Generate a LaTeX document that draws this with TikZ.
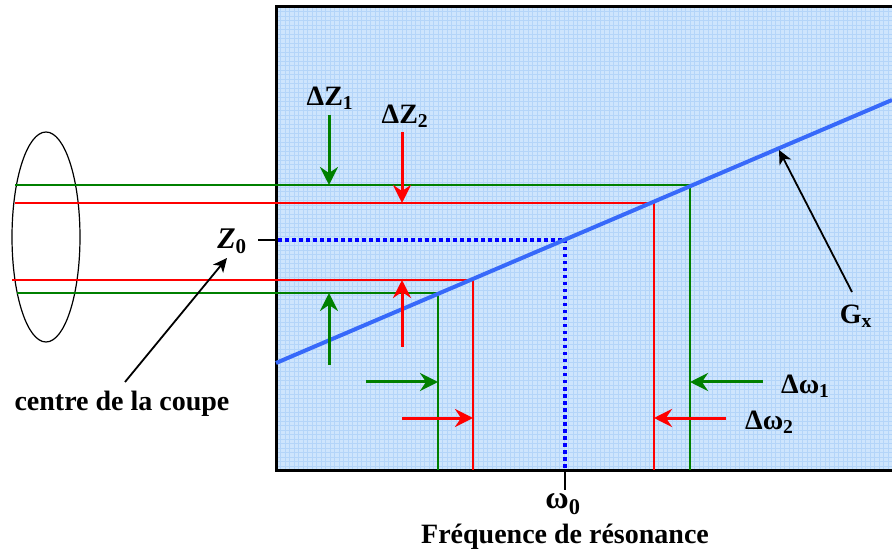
\documentclass[tikz,border=0pt]{standalone}
\usepackage{fontspec}
\setmainfont{Liberation Serif}
\usetikzlibrary{arrows.meta}
\definecolor{bgblue}{RGB}{206,229,253}
\definecolor{gridblue}{RGB}{180,213,249}
\definecolor{dgreen}{RGB}{0,128,0}
\definecolor{gxblue}{RGB}{55,105,250}
\definecolor{dotblue}{RGB}{0,0,255}
\tikzset{
  lbl/.style={font=\fontsize{28}{30}\selectfont\bfseries, inner sep=0pt},
  gline/.style={dgreen, line width=1.6pt},
  rline/.style={red, line width=1.6pt},
  garrow/.style={dgreen, line width=3pt, -{Stealth[length=18pt,width=18pt,inset=6pt]}},
  rarrow/.style={red, line width=3pt, -{Stealth[length=18pt,width=18pt,inset=6pt]}},
  karrow/.style={black, line width=1.8pt, -{Stealth[length=14pt,width=13pt,inset=4pt]}},
}
\begin{document}
\begin{tikzpicture}[x=1pt,y=-1pt]
\useasboundingbox (0,0) rectangle (892,553);
% box
\fill[bgblue] (276,7) rectangle (892,470);
\begin{scope}
\clip (276,7) rectangle (892,470);
\foreach \i in {0,...,137} {\draw[gridblue, line width=0.8pt] (276+\i*4.5,7) -- (276+\i*4.5,470);}
\foreach \j in {0,...,103} {\draw[gridblue, line width=0.8pt] (276,7+\j*4.5) -- (892,7+\j*4.5);}
\end{scope}
\draw[black, line width=3pt] (892,7) -- (276,7) -- (276,470) -- (892,470);
% coordinates
\coordinate (gA) at (690,185);
\coordinate (rA) at (654,203);
\coordinate (rB) at (473,280);
\coordinate (gB) at (438,293);
\coordinate (z0) at (565,240);
\coordinate (gAb) at (690,470);
\coordinate (rAb) at (654,470);
\coordinate (rBb) at (473,470);
\coordinate (gBb) at (438,470);
\coordinate (w0b) at (565,470);
\coordinate (gAl) at (15,185);
\coordinate (rAl) at (15,203);
\coordinate (rBl) at (12,280);
\coordinate (gBl) at (17,293);
% ellipse
\draw[black, line width=1.2pt] (46,237) ellipse [x radius=34, y radius=105];
% horizontal/vertical lines
\draw[gline] (gAl) -- (gA) -- (gAb);
\draw[rline] (rAl) -- (rA) -- (rAb);
\draw[rline] (rBl) -- (rB) -- (rBb);
\draw[gline] (gBl) -- (gB) -- (gBb);
% dotted
\draw[dotblue, line width=3.5pt, dash pattern=on 3.5pt off 3.5pt] (278,240) -- (z0) -- (w0b);
\draw[black, line width=2.5pt] (258,240) -- (276,240);
\draw[black, line width=2.5pt] (w0b) -- (565,490);
% Gx line
\coordinate (gx0) at (276,363);
\coordinate (gx1) at (892,100);
\draw[gxblue, line width=4pt] (gx0) -- (gx1);
% Delta Z arrows
\coordinate (dz1s) at (329,115);
\coordinate (dz1e) at (329,185);
\coordinate (dz2s) at (402,132);
\coordinate (dz2e) at (402,203);
\coordinate (uz1s) at (329,365);
\coordinate (uz1e) at (329,293);
\coordinate (uz2s) at (402,347);
\coordinate (uz2e) at (402,280);
\draw[garrow] (dz1s) -- (dz1e);
\draw[rarrow] (dz2s) -- (dz2e);
\draw[garrow] (uz1s) -- (uz1e);
\draw[rarrow] (uz2s) -- (uz2e);
% Delta omega arrows
\coordinate (w1s) at (366,382);
\coordinate (w1e) at (438,382);
\coordinate (w2s) at (402,418);
\coordinate (w2e) at (473,418);
\coordinate (w3s) at (763,382);
\coordinate (w3e) at (690,382);
\coordinate (w4s) at (726,418);
\coordinate (w4e) at (654,418);
\draw[garrow] (w1s) -- (w1e);
\draw[rarrow] (w2s) -- (w2e);
\draw[garrow] (w3s) -- (w3e);
\draw[rarrow] (w4s) -- (w4e);
% labels
\node[lbl] (ldz1) at (330,98) {ΔZ\textsubscript{1}};
\node[lbl] (ldz2) at (405,116) {ΔZ\textsubscript{2}};
\node[lbl, font=\fontsize{30}{32}\selectfont\bfseries\itshape] (lz0) at (232,241) {Z\textsubscript{\upshape 0}};
\node[lbl, anchor=west] (ldw1) at (781,386) {Δω\textsubscript{1}};
\node[lbl, anchor=west] (ldw2) at (745,422) {Δω\textsubscript{2}};
\node[lbl] (lgx) at (856,316) {G\textsubscript{x}};
\node[lbl, font=\fontsize{32}{34}\selectfont\bfseries] (lw0) at (563,504) {ω\textsubscript{0}};
\node[lbl] (lfr) at (565,537) {Fréquence de résonance};
\node[lbl] (lcc) at (122,404) {centre de la coupe};
% black arrows
\draw[karrow] (125,382) -- (227,258);
\draw[karrow] (852,292) -- (779,150);
\end{tikzpicture}
\end{document}
